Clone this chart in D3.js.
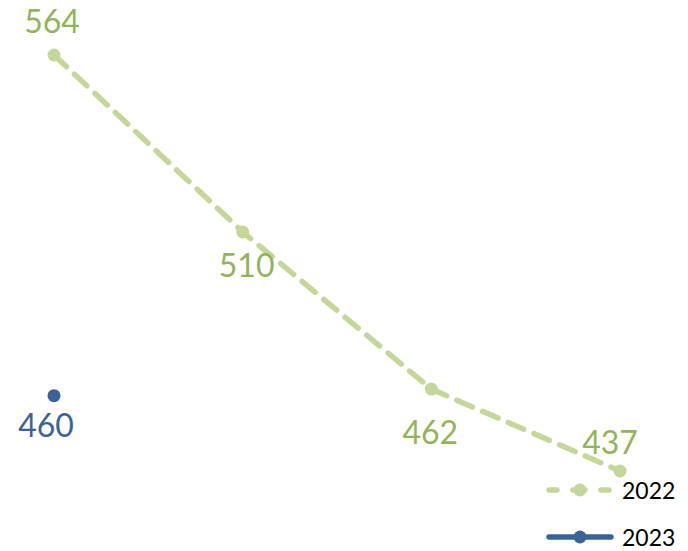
<!DOCTYPE html>
<html>
<head>
<meta charset="utf-8">
<script src="https://cdn.jsdelivr.net/npm/d3@7"></script>
<style>
  html, body { margin: 0; padding: 0; background: #fff; }
  svg { display: block; font-family: Lato, "Open Sans", sans-serif; }
</style>
</head>
<body>
<div id="chart"></div>
<script>
const categories = ['1', '2', '3', '4']
const values2022 = [564, 510, 462, 437]
const values2023 = [460, null, null, null]
const seriesNames = ['2022', '2023']

const width = 688
const height = 551

const svg = d3.select('#chart')
  .append('svg')
  .attr('width', width)
  .attr('height', height)

const x = d3.scalePoint()
  .domain(categories)
  .range([54, 620])

const y = d3.scaleLinear()
  .domain([437, 564])
  .range([471, 55])

// label offsets relative to the point (dx, baseline dy)
const series = [
  { name: seriesNames[0], values: values2022, line: '#c4d79b', text: '#93b559', dash: '17,11',
    labelOff: [[-2, -22], [4, 45], [-1, 55], [-10, -17]] },
  { name: seriesNames[1], values: values2023, line: '#3a6497', text: '#3a6497', dash: null,
    labelOff: [[-8, 41]] }
]

const line = d3.line()
  .defined(d => d.v != null)
  .x(d => x(d.c))
  .y(d => y(d.v))

series.forEach(s => {
  const pts = categories.map((c, i) => ({ c: c, v: s.values[i], i: i }))
  const g = svg.append('g')

  g.append('path')
    .datum(pts)
    .attr('d', line)
    .attr('fill', 'none')
    .attr('stroke', s.line)
    .attr('stroke-width', 5.5)
    .attr('stroke-linecap', 'round')
    .attr('stroke-dasharray', s.dash)

  const valid = pts.filter(d => d.v != null)

  g.selectAll('circle')
    .data(valid)
    .enter()
    .append('circle')
    .attr('cx', d => x(d.c))
    .attr('cy', d => y(d.v))
    .attr('r', 6.5)
    .attr('fill', s.line)

  g.selectAll('text')
    .data(valid)
    .enter()
    .append('text')
    .attr('x', d => x(d.c) + s.labelOff[d.i][0])
    .attr('y', d => y(d.v) + s.labelOff[d.i][1])
    .attr('text-anchor', 'middle')
    .attr('font-size', 32)
    .attr('fill', s.text)
    .text(d => d.v)
})

// legend
const legend = svg.append('g')
series.forEach((s, i) => {
  const ly = 490 + i * 47
  const lg = legend.append('g')
  lg.append('line')
    .attr('x1', 549).attr('x2', 611)
    .attr('y1', ly).attr('y2', ly)
    .attr('stroke', s.line)
    .attr('stroke-width', 5.5)
    .attr('stroke-linecap', 'round')
    .attr('stroke-dasharray', s.dash ? '8,16,12,16' : null)
  lg.append('circle')
    .attr('cx', 580).attr('cy', ly)
    .attr('r', 6.5)
    .attr('fill', s.line)
  lg.append('text')
    .attr('x', 622)
    .attr('y', ly + 9)
    .attr('font-size', 23)
    .attr('fill', '#000')
    .text(s.name)
})
</script>
</body>
</html>
